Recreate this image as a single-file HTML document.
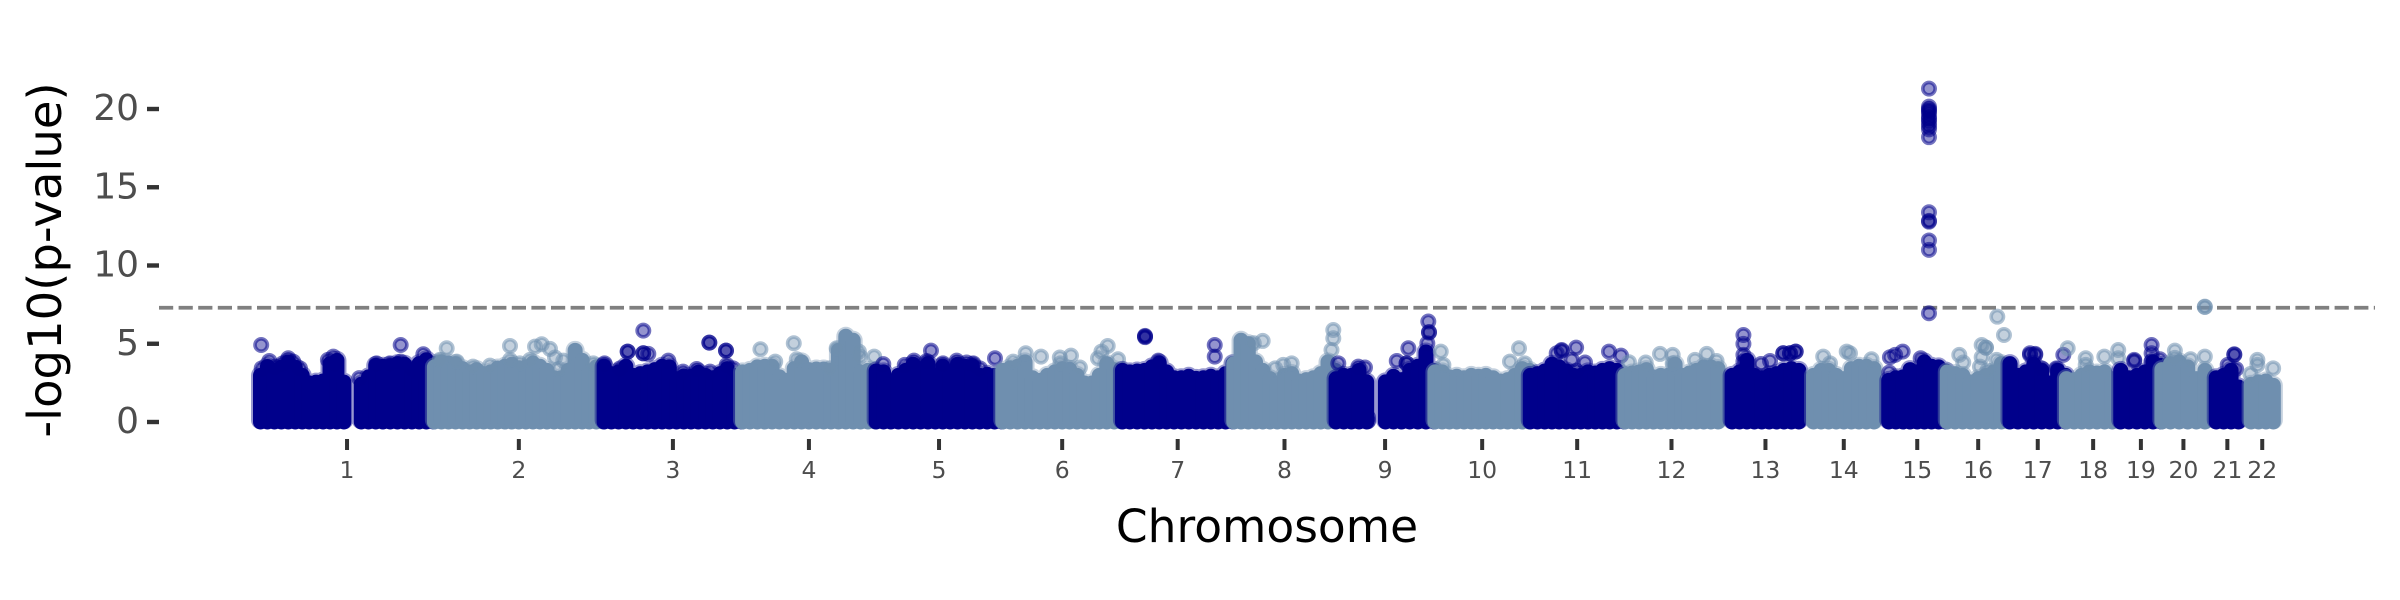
<!DOCTYPE html>
<html>
<head>
<meta charset="utf-8">
<title>Manhattan plot</title>
<style>
html,body{margin:0;padding:0;background:#fff;}
svg{display:block;}
text{font-family:"DejaVu Sans","Liberation Sans",sans-serif;}
</style>
</head>
<body>
<svg id="chart" width="2400" height="600" viewBox="0 0 2400 600" xmlns="http://www.w3.org/2000/svg">
  <rect x="0" y="0" width="2400" height="600" fill="#ffffff"/>
  <g id="threshold-layer"></g>
  <g id="marks"></g>
  <g id="axes"></g>
  <text transform="translate(61,260) rotate(-90)" text-anchor="middle" font-size="46.5" fill="#000000">-log10(p-value)</text>
  <text x="1267" y="542" text-anchor="middle" font-size="45.5" fill="#000000">Chromosome</text>
</svg>
<script>
// Chromosome labels and mapped lengths (Mb)
const chromLabels = ["1","2","3","4","5","6","7","8","9","10","11","12","13","14","15","16","17","18","19","20","21","22"];
const chromLengths = [249,243,198,191,181,171,159,146,141,136,135,134,115,107,103,89,80,77,58,62,47,51];
// Mapped segments of each chromosome (Mb)
const segStarts = [[0,145],[0],[0],[0],[0],[0],[0],[0],[0,71],[0],[0],[0],[19],[20],[20],[0],[0],[0],[0],[0],[15],[17]];
const segEnds = [[120,249],[243],[198],[191],[181],[171],[159],[146],[44,141],[136],[135],[134],[115],[107],[102],[89],[80],[77],[58],[62],[47],[49]];
// Upper envelope of the dense point cloud, evenly spaced along each segment (-log10 p)
const envelope = [
  [[2.98,3.55,3.3,3.5,3.84,3.5,2.98,2.5,2.55,2.62,3.73,3.94,2.55],[2.41,2.88,3.62,3.56,3.6,3.73,3.69,3.26,3.73,3.98,3.73]],
  [[3.52,3.84,3.77,3.73,3.41,3.2,3.35,3.09,3.2,3.45,3.56,3.69,3.47,3.52,3.77,3.56,3.3,2.83,2.83,3.3,4.58,3.94,3.2,3.52,3.3]],
  [[3.56,3.09,3.2,3.56,2.98,3.09,3.2,3.35,3.56,3.52,2.77,2.94,2.92,3.18,2.98,2.83,3.09,3.41,2.98,2.66]],
  [[3.2,3.3,3.52,3.56,3.56,2.88,2.66,3.41,3.84,3.35,3.39,3.39,3.3,4.58,5.48,5.22,3.2,3.3,3.2]],
  [[3.26,3.2,2.62,2.98,3.3,3.69,3.41,3.73,2.98,3.56,3.13,3.69,3.56,3.6,2.98,3.05,2.98,2.77]],
  [[3.3,3.47,3.56,3.84,2.83,2.66,2.98,3.2,3.41,3.37,2.98,2.49,2.49,2.98,3.73,3.35,3.26]],
  [[3.3,3.2,3.26,3.3,3.52,3.77,3.2,2.83,2.83,2.92,2.79,2.83,2.92,2.83,3.09,3.73]],
  [[3.73,5.22,5.01,3.84,3.3,2.77,2.41,2.98,3.09,2.62,2.71,2.83,3.09,3.84,3.3]],
  [[2.77,2.98,2.98,3.3,2.56],[2.56,2.92,2.71,3.3,3.56,4.47,3.3]],
  [[3.2,3.2,2.88,2.92,2.83,2.98,2.92,2.98,2.83,2.62,2.71,2.98,3.41,3.3]],
  [[2.98,3.09,3.26,3.69,3.52,3.26,2.98,2.98,3.2,3.13,3.3,3.41,3.3,2.98]],
  [[2.98,3.13,3.2,3.35,2.88,2.98,2.98,3.69,2.98,3.13,3.3,3.52,3.52,3.41]],
  [[2.98,3.2,3.94,2.98,2.83,2.98,3.09,3.3,3.41,3.3]],
  [[2.98,3.3,3.3,2.98,2.77,3.41,3.56,3.56,3.41]],
  [[2.66,2.83,2.88,3.35,3.2,3.84,3.56,3.52,3.26]],
  [[3.2,3.09,2.98,2.56,2.77,2.98,3.2,3.73,3.52]],
  [[3.73,2.98,3.2,3.69,3.3,2.49,3.3,2.98]],
  [[2.77,2.71,2.98,3.2,3.13,3.2,2.77,2.66]],
  [[3.3,2.83,2.98,3.2,3.84,3.62]],
  [[3.35,3.73,3.84,3.52,2.77,3.3]],
  [[2.83,2.98,3.3,2.24]],
  [[2.41,2.56,2.62,2.34]]
];
// Individually visible points: position within chromosome (Mb)
const hitPositions = [
  [1,201.7,12.7,40,104.8,1.7,142,201.7,234.3,56.8,20.9,32,47,97,107,167,186,217.6,224.7],
  [17.7,108.8,144.8,154.4,166.3,173.5,185.5,179.3,80,228.7,32.1,7.8,55.6,137.6,122.8,108.8],
  [56.4,33.9,33.9,56.4,56.4,63.6,151.4,151.4,175.4,175.4,0.6,176.4,92.4,133.2,22.9,113.6,152.4,185.6],
  [73.7,25.7,47,167.4,169,189.4,78,135.4,125.4],
  [78.9,72.8,171,10.3,54.5,115.9,130.2,139.8,41.2,96.2,149.2],
  [33,55,82.1,98.2,111,151,142,137,165.9,15,83],
  [32.5,32.5,32.5,132.8,132.8,51.6],
  [28.8,41.6,59.6,143.2,143.2,140.6,83.3,71.2],
  [45.9,45.9,3.2,32,41.6,104,87.3,101.4,101.4,132.7,133.7,133.7,131.3],
  [8.4,12.2,121,108,129.2],
  [66,45.2,45.2,38,113.3,130.6,59.6,78.8,66],
  [29.9,50.5,68.7,68.7,100.8,117.7,131.8,5.8],
  [35.3,35.3,35.3,35.3,60.6,73.6,92.6,92.6,110.5,110.5,102.3,102.3],
  [33.9,43.7,67.7,72.4,103.4],
  [77.9,77.9,77.9,77.9,77.9,77.9,77.9,77.9,77.9,77.9,77.9,77.9,77.9,77.9,77.9,77.9,77.9,77.9,21.7,29.2,40,20.7,65.9],
  [72,81.6,49.5,55.7,55.7,17.3,23,49.5,47,57.6,71],
  [28.8,28.8,36.4,36.4,76.8,66.8,45.7],
  [1.9,27.8,54.6,74.6,74.6,27.8],
  [44.4,44.4,19.4,19.4,56.4,44.4],
  [61.8,61.8,18.7,41.3,61.8,18.7],
  [41,41,31.5,43.5],
  [26,48.7,16,26]
];
// Individually visible points: -log10 p
const hitLogP = [
  [4.92,4.92,3.9,4.07,4.18,3.43,2.8,3.86,4.33,3.43,3.54,3.75,3.86,3.97,3.75,3.75,3.75,3.43,3.22],
  [4.71,4.86,4.82,4.97,4.67,4.12,3.92,3.39,3.6,3.75,3.86,3.97,3.54,3.97,3.75,3.97],
  [5.84,4.5,4.5,4.39,4.39,4.35,5.07,5.07,4.56,4.56,3.75,3.65,3.92,3.39,3.43,3.22,3.22,3.43],
  [5.03,4.65,3.86,4.5,4.18,4.18,4.01,4.71,3.43],
  [4.56,3.9,4.07,3.7,3.92,3.92,3.8,3.75,3.65,3.75,3.43],
  [4.39,4.18,4.12,4.24,3.48,4.86,4.5,4.07,4.01,3.86,3.75],
  [5.5,5.42,5.46,4.92,4.18,3.92],
  [5.03,5.18,3.43,5.88,5.35,4.6,3.75,3.65],
  [0.3,0.05,3.75,3.54,3.48,4.71,3.9,3.75,3.75,6.42,5.71,5.75,5.03],
  [4.5,3.65,4.71,3.86,3.75],
  [4.75,4.6,4.55,4.39,4.5,4.24,3.97,3.8,3.28],
  [3.8,4.35,4.29,3.75,3.97,4.35,3.9,3.82],
  [5.56,4.99,4.29,3.86,3.71,3.9,4.39,4.39,4.5,4.5,4.39,4.39],
  [4.18,3.75,4.5,4.39,4.01],
  [21.3,20.15,20,19.9,19.8,19.6,19.4,19.3,19.1,18.9,18.7,18.2,13.4,12.85,12.8,11.6,11,6.95,4.14,4.29,4.5,3.16,4.07],
  [6.73,5.56,4.92,4.75,4.75,4.29,3.8,4.14,3.54,3.28,3.97],
  [4.39,4.3,4.35,4.3,4.29,3.43,3.43],
  [4.71,4.07,4.18,4.6,4.07,3.65],
  [4.92,4.39,3.97,3.9,4.01,3.86],
  [7.37,7.35,4.56,4.01,4.18,4.1],
  [4.33,4.3,3.65,3.39],
  [3.97,3.43,3.07,3.65]
];
// Axis ticks and reference line
const yTicks = [0,5,10,15,20];
const thresholdLogP = 7.3;

const NS = "http://www.w3.org/2000/svg";
const DARK = "#00008b";
const LIGHT = "#6f8faf";
const CHROM_GAP = 1.2;
const chromOffsets = [];
let cumulative = 0;
for (let i = 0; i < chromLengths.length; i++) {
  chromOffsets.push(cumulative);
  cumulative += chromLengths[i] + CHROM_GAP;
}
function xScale(chromIndex, mb) { return 260.5 + 0.695 * (chromOffsets[chromIndex] + mb); }
function yScale(logp) { return 422 - 15.65 * logp; }

function make(tag, attrs, parent) {
  const el = document.createElementNS(NS, tag);
  for (const k in attrs) el.setAttribute(k, attrs[k]);
  parent.appendChild(el);
  return el;
}

const marks = document.getElementById("marks");
const axes = document.getElementById("axes");
const thresholdLayer = document.getElementById("threshold-layer");

// Significance threshold
const thresholdLine = make("line", {x1:159, x2:2375, y1:yScale(thresholdLogP), y2:yScale(thresholdLogP), stroke:"#808080", "stroke-width":3.8, "stroke-dasharray":"14.2 5.4"}, thresholdLayer);



// Point cloud per chromosome; later chromosomes paint over earlier ones
chromLabels.forEach(function (label, c) {
  const color = c % 2 === 0 ? DARK : LIGHT;
  const group = make("g", {}, marks);
  
  
  // soft rim of the cloud, from semi-transparent points along its edge
  const rim = make("g", {opacity:0.4}, group);
  
  
  envelope[c].forEach(function (heights, s) {
    const start = segStarts[c][s];
    const end = segEnds[c][s];
    heights.forEach(function (h, k) {
      const mb = start + (end - start) * k / (heights.length - 1);
      const x = xScale(c, mb);
      const rimCol = make("line", {x1:x, x2:x, y1:yScale(h), y2:yScale(0) - 2, stroke:color, "stroke-width":19, "stroke-linecap":"round"}, rim);
      
      
      const col = make("line", {x1:x, x2:x, y1:yScale(h), y2:yScale(0), stroke:color, "stroke-width":15, "stroke-linecap":"round"}, group);
      
      
    });
  });
  hitPositions[c].forEach(function (mb, k) {
    const dot = make("circle", {cx:xScale(c, mb), cy:yScale(hitLogP[c][k]), r:6.2, fill:color, "fill-opacity":0.42, stroke:color, "stroke-opacity":0.55, "stroke-width":3.6}, group);
    
    
  });
});

// Y axis
yTicks.forEach(function (v) {
  const y = yScale(v);
  const tick = make("line", {x1:147, x2:159, y1:y, y2:y, stroke:"#333333", "stroke-width":4.4}, axes);
  
  
  const txt = make("text", {x:139, y:y + 11, "text-anchor":"end", "font-size":36, fill:"#4d4d4d"}, axes);
  txt.textContent = String(v);
  
  
});

// X axis: tick at the middle of each chromosome's mapped range
chromLabels.forEach(function (label, c) {
  const lo = segStarts[c][0];
  const hi = segEnds[c][segEnds[c].length - 1];
  const x = xScale(c, (lo + hi) / 2);
  const tick = make("line", {x1:x, x2:x, y1:439, y2:450, stroke:"#333333", "stroke-width":4}, axes);
  
  
  const txt = make("text", {x:x, y:478, "text-anchor":"middle", "font-size":23.5, fill:"#4d4d4d"}, axes);
  txt.textContent = label;
  
  
});
</script>
</body>
</html>
